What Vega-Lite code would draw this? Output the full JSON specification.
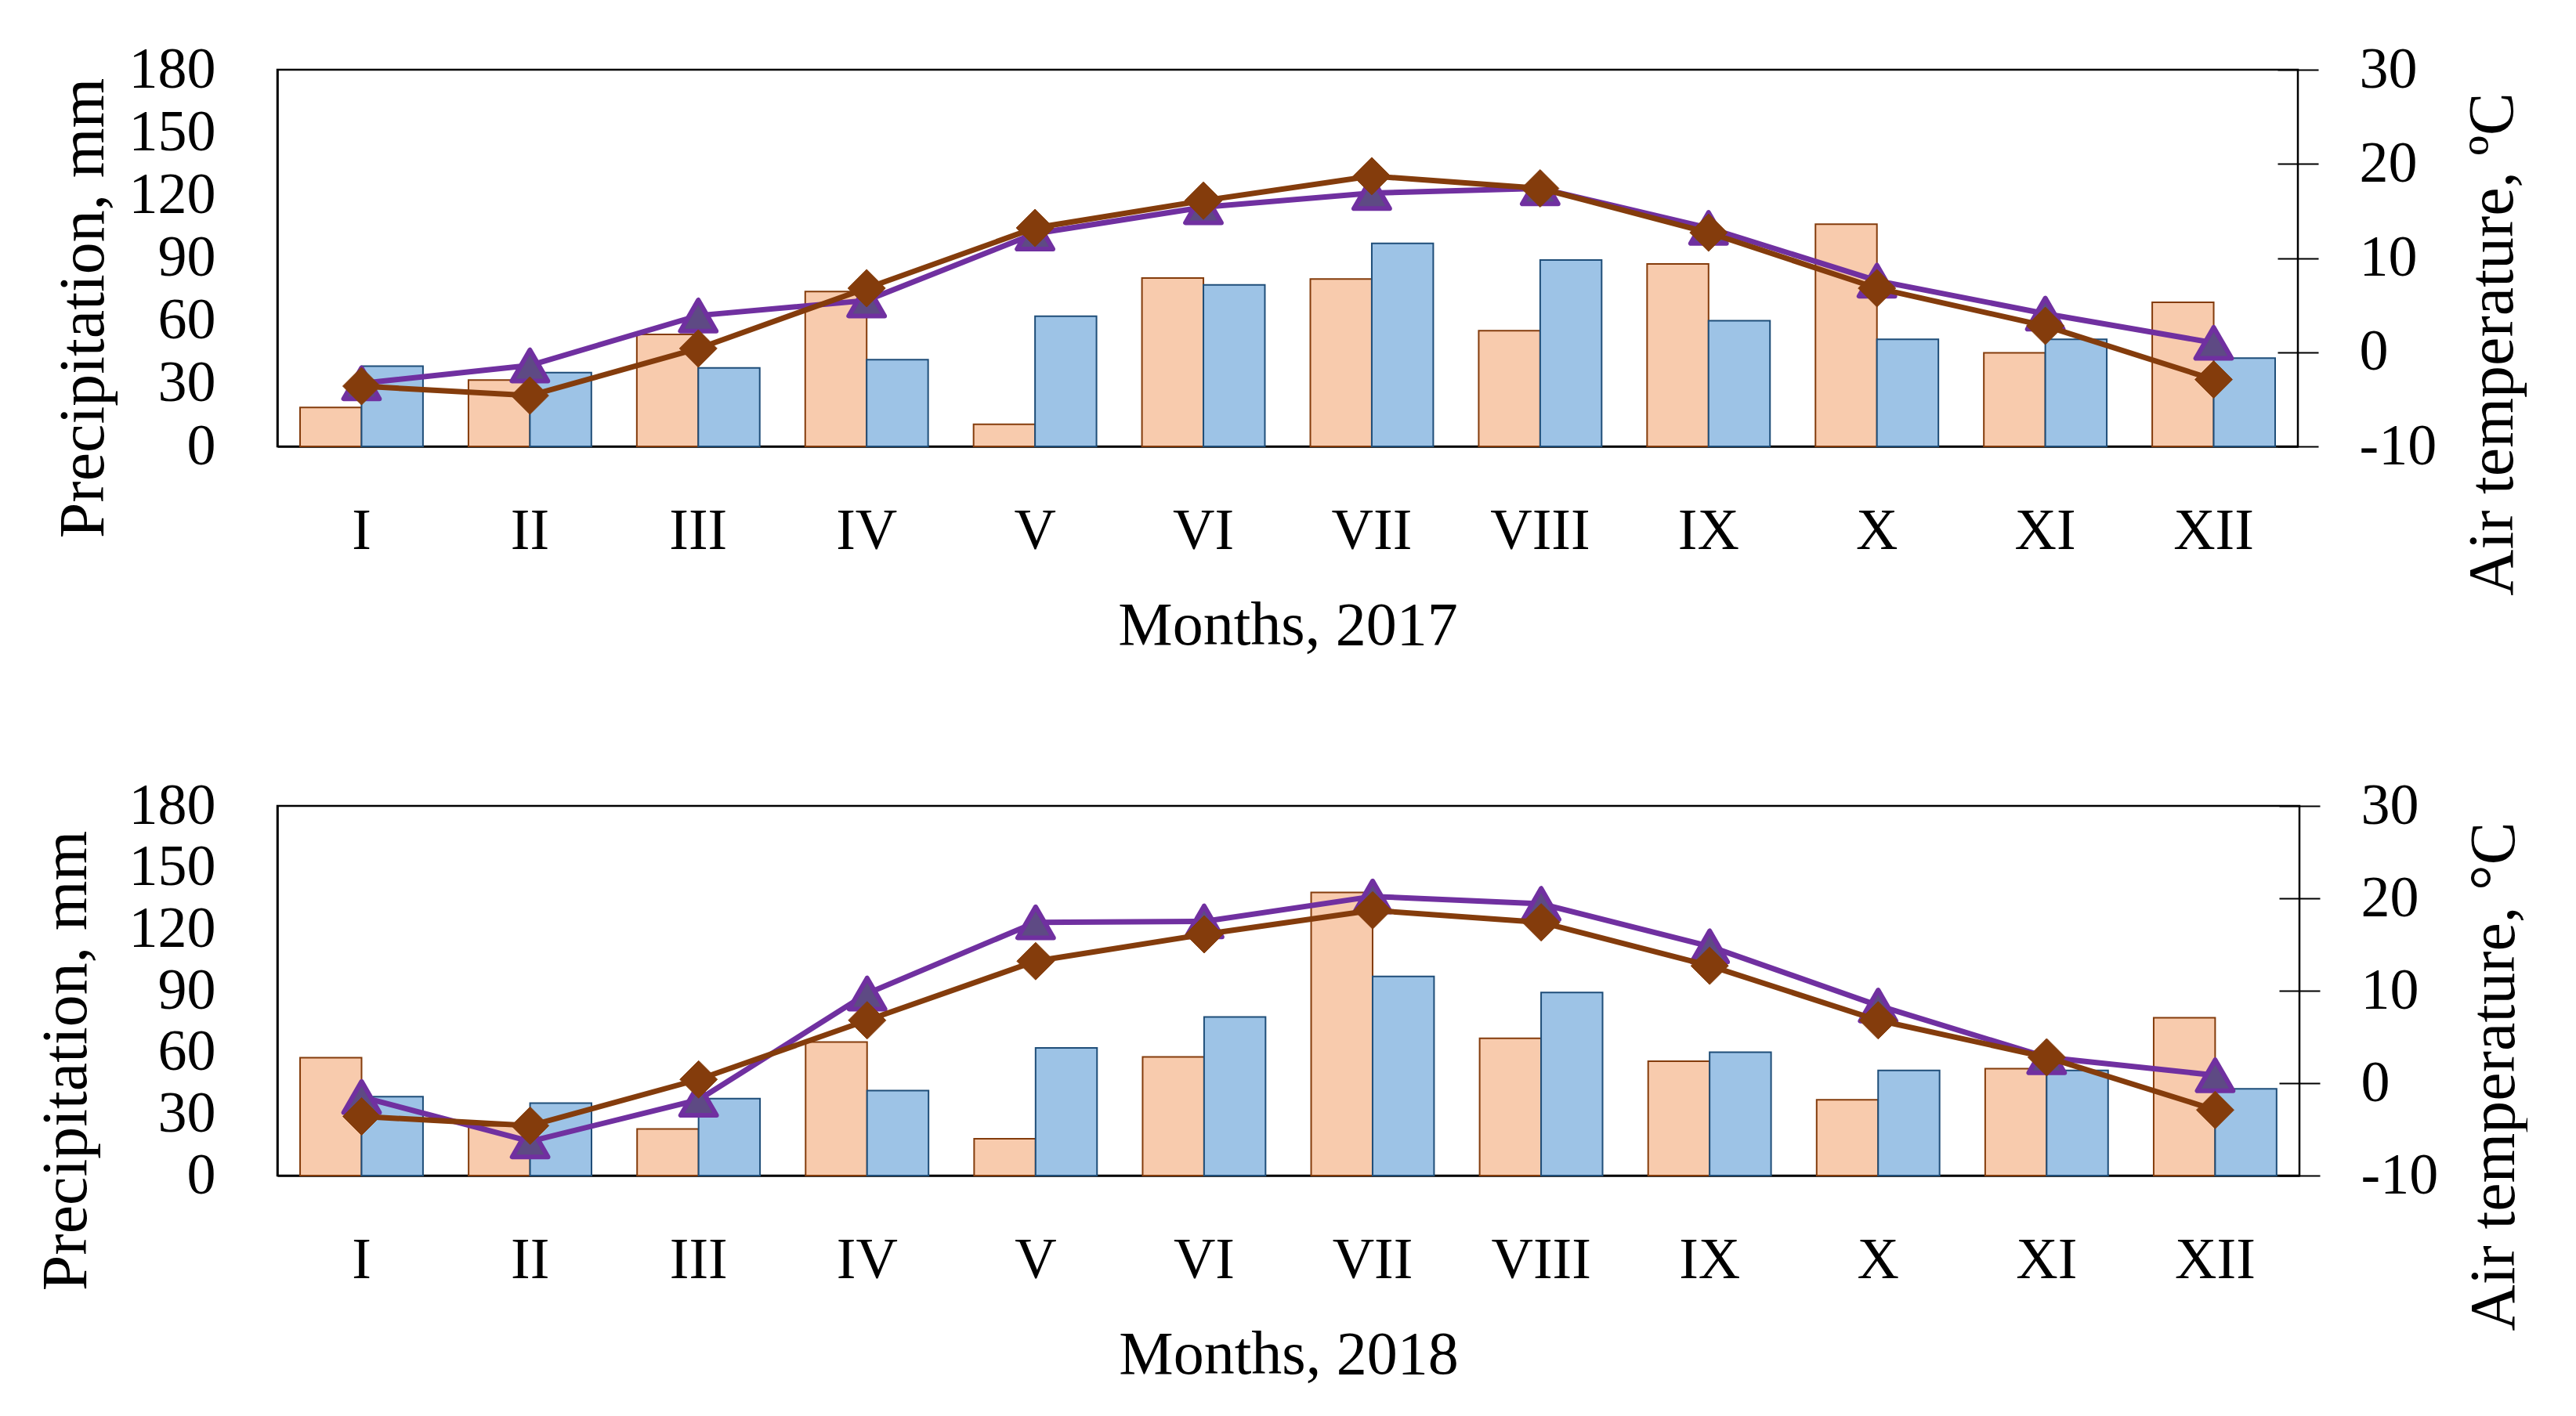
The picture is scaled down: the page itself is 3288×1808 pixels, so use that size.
{
  "$schema": "https://vega.github.io/schema/vega-lite/v6.json",
  "padding": {"left": 41, "top": 50, "right": 0, "bottom": 0},
  "background": "white",
  "config": {
    "font": "Liberation Serif",
    "view": {"stroke": "black", "strokeWidth": 2.5},
    "axis": {"labelFont": "Liberation Serif", "titleFont": "Liberation Serif", "labelColor": "black", "titleColor": "black", "titleFontWeight": "normal", "grid": false, "domainColor": "black", "tickColor": "black"}
  },
  "datasets": {
    "bars": [
      {"year": 2017, "month": "I", "series": "actual", "value": 18.6},
      {"year": 2017, "month": "II", "series": "actual", "value": 31.7},
      {"year": 2017, "month": "III", "series": "actual", "value": 53.5},
      {"year": 2017, "month": "IV", "series": "actual", "value": 74.0},
      {"year": 2017, "month": "V", "series": "actual", "value": 10.6},
      {"year": 2017, "month": "VI", "series": "actual", "value": 80.5},
      {"year": 2017, "month": "VII", "series": "actual", "value": 80.0},
      {"year": 2017, "month": "VIII", "series": "actual", "value": 55.3},
      {"year": 2017, "month": "IX", "series": "actual", "value": 87.2},
      {"year": 2017, "month": "X", "series": "actual", "value": 106.2},
      {"year": 2017, "month": "XI", "series": "actual", "value": 44.7},
      {"year": 2017, "month": "XII", "series": "actual", "value": 68.9},
      {"year": 2017, "month": "I", "series": "norm", "value": 38.4},
      {"year": 2017, "month": "II", "series": "norm", "value": 35.3},
      {"year": 2017, "month": "III", "series": "norm", "value": 37.5},
      {"year": 2017, "month": "IV", "series": "norm", "value": 41.4},
      {"year": 2017, "month": "V", "series": "norm", "value": 62.2},
      {"year": 2017, "month": "VI", "series": "norm", "value": 77.2},
      {"year": 2017, "month": "VII", "series": "norm", "value": 97.0},
      {"year": 2017, "month": "VIII", "series": "norm", "value": 89.1},
      {"year": 2017, "month": "IX", "series": "norm", "value": 60.1},
      {"year": 2017, "month": "X", "series": "norm", "value": 51.2},
      {"year": 2017, "month": "XI", "series": "norm", "value": 51.2},
      {"year": 2017, "month": "XII", "series": "norm", "value": 42.2},
      {"year": 2018, "month": "I", "series": "actual", "value": 57.4},
      {"year": 2018, "month": "II", "series": "actual", "value": 24.2},
      {"year": 2018, "month": "III", "series": "actual", "value": 22.7},
      {"year": 2018, "month": "IV", "series": "actual", "value": 65.0},
      {"year": 2018, "month": "V", "series": "actual", "value": 17.9},
      {"year": 2018, "month": "VI", "series": "actual", "value": 57.8},
      {"year": 2018, "month": "VII", "series": "actual", "value": 137.9},
      {"year": 2018, "month": "VIII", "series": "actual", "value": 66.8},
      {"year": 2018, "month": "IX", "series": "actual", "value": 55.7},
      {"year": 2018, "month": "X", "series": "actual", "value": 36.9},
      {"year": 2018, "month": "XI", "series": "actual", "value": 52.1},
      {"year": 2018, "month": "XII", "series": "actual", "value": 76.8},
      {"year": 2018, "month": "I", "series": "norm", "value": 38.4},
      {"year": 2018, "month": "II", "series": "norm", "value": 35.3},
      {"year": 2018, "month": "III", "series": "norm", "value": 37.5},
      {"year": 2018, "month": "IV", "series": "norm", "value": 41.4},
      {"year": 2018, "month": "V", "series": "norm", "value": 62.2},
      {"year": 2018, "month": "VI", "series": "norm", "value": 77.2},
      {"year": 2018, "month": "VII", "series": "norm", "value": 97.0},
      {"year": 2018, "month": "VIII", "series": "norm", "value": 89.1},
      {"year": 2018, "month": "IX", "series": "norm", "value": 60.1},
      {"year": 2018, "month": "X", "series": "norm", "value": 51.2},
      {"year": 2018, "month": "XI", "series": "norm", "value": 51.2},
      {"year": 2018, "month": "XII", "series": "norm", "value": 42.2}
    ],
    "temps": [
      {"year": 2017, "month": "I", "series": "actual", "value": -3.3},
      {"year": 2017, "month": "II", "series": "actual", "value": -1.4},
      {"year": 2017, "month": "III", "series": "actual", "value": 3.9},
      {"year": 2017, "month": "IV", "series": "actual", "value": 5.5},
      {"year": 2017, "month": "V", "series": "actual", "value": 12.6},
      {"year": 2017, "month": "VI", "series": "actual", "value": 15.4},
      {"year": 2017, "month": "VII", "series": "actual", "value": 16.9},
      {"year": 2017, "month": "VIII", "series": "actual", "value": 17.4},
      {"year": 2017, "month": "IX", "series": "actual", "value": 13.2},
      {"year": 2017, "month": "X", "series": "actual", "value": 7.6},
      {"year": 2017, "month": "XI", "series": "actual", "value": 4.1},
      {"year": 2017, "month": "XII", "series": "actual", "value": 1.0},
      {"year": 2017, "month": "I", "series": "norm", "value": -3.6},
      {"year": 2017, "month": "II", "series": "norm", "value": -4.6},
      {"year": 2017, "month": "III", "series": "norm", "value": 0.4},
      {"year": 2017, "month": "IV", "series": "norm", "value": 6.8},
      {"year": 2017, "month": "V", "series": "norm", "value": 13.2},
      {"year": 2017, "month": "VI", "series": "norm", "value": 16.1},
      {"year": 2017, "month": "VII", "series": "norm", "value": 18.7},
      {"year": 2017, "month": "VIII", "series": "norm", "value": 17.4},
      {"year": 2017, "month": "IX", "series": "norm", "value": 12.7},
      {"year": 2017, "month": "X", "series": "norm", "value": 6.8},
      {"year": 2017, "month": "XI", "series": "norm", "value": 2.8},
      {"year": 2017, "month": "XII", "series": "norm", "value": -2.9},
      {"year": 2018, "month": "I", "series": "actual", "value": -1.5},
      {"year": 2018, "month": "II", "series": "actual", "value": -6.3},
      {"year": 2018, "month": "III", "series": "actual", "value": -1.8},
      {"year": 2018, "month": "IV", "series": "actual", "value": 9.7},
      {"year": 2018, "month": "V", "series": "actual", "value": 17.4},
      {"year": 2018, "month": "VI", "series": "actual", "value": 17.5},
      {"year": 2018, "month": "VII", "series": "actual", "value": 20.2},
      {"year": 2018, "month": "VIII", "series": "actual", "value": 19.4},
      {"year": 2018, "month": "IX", "series": "actual", "value": 14.8},
      {"year": 2018, "month": "X", "series": "actual", "value": 8.4},
      {"year": 2018, "month": "XI", "series": "actual", "value": 2.8},
      {"year": 2018, "month": "XII", "series": "actual", "value": 0.85},
      {"year": 2018, "month": "I", "series": "norm", "value": -3.6},
      {"year": 2018, "month": "II", "series": "norm", "value": -4.6},
      {"year": 2018, "month": "III", "series": "norm", "value": 0.4},
      {"year": 2018, "month": "IV", "series": "norm", "value": 6.8},
      {"year": 2018, "month": "V", "series": "norm", "value": 13.2},
      {"year": 2018, "month": "VI", "series": "norm", "value": 16.1},
      {"year": 2018, "month": "VII", "series": "norm", "value": 18.7},
      {"year": 2018, "month": "VIII", "series": "norm", "value": 17.4},
      {"year": 2018, "month": "IX", "series": "norm", "value": 12.7},
      {"year": 2018, "month": "X", "series": "norm", "value": 6.8},
      {"year": 2018, "month": "XI", "series": "norm", "value": 2.8},
      {"year": 2018, "month": "XII", "series": "norm", "value": -2.9}
    ]
  },
  "spacing": 150,
  "vconcat": [
    {
      "width": 2579,
      "height": 481,
      "resolve": {"scale": {"y": "independent"}},
      "layer": [
        {
          "data": {"name": "bars"},
          "transform": [{"filter": "datum.year == 2017"}],
          "mark": {"type": "bar", "strokeWidth": 2},
          "encoding": {
            "x": {"field": "month", "type": "nominal", "sort": ["I","II","III","IV","V","VI","VII","VIII","IX","X","XI","XII"], "scale": {"paddingInner": 0.27, "paddingOuter": 0.135},
              "axis": {"title": "Months, 2017", "labelAngle": 0, "ticks": false, "tickSize": 0, "labelPadding": 72, "labelFontSize": 74, "titleFontSize": 78, "titlePadding": 45, "domainWidth": 2.5}},
            "xOffset": {"field": "series", "sort": ["actual", "norm"]},
            "y": {"field": "value", "type": "quantitative", "scale": {"domain": [0, 180], "nice": false},
              "axis": {"title": "Precipitation, mm", "values": [0,30,60,90,120,150,180], "ticks": false, "tickSize": 0, "labelPadding": 79, "labelFontSize": 74, "titleFontSize": 82, "titlePadding": 16, "titleY": 304, "domainWidth": 2.5}},
            "color": {"field": "series", "scale": {"domain": ["actual", "norm"], "range": ["#F8CBAD", "#9DC3E6"]}, "legend": null},
            "stroke": {"field": "series", "scale": {"domain": ["actual", "norm"], "range": ["#843C0C", "#1F4E79"]}, "legend": null}
          }
        },
        {
          "data": {"name": "temps"},
          "transform": [{"filter": "datum.year == 2017"}],
          "encoding": {
            "x": {"field": "month", "type": "nominal", "sort": ["I","II","III","IV","V","VI","VII","VIII","IX","X","XI","XII"]},
            "y": {"field": "value", "type": "quantitative", "scale": {"domain": [-10, 30], "nice": false},
              "axis": {"orient": "right", "title": "Air temperature, ºC", "values": [-10,0,10,20,30], "labelExpr": "'' + datum.value", "offset": -26, "domain": false, "tickSize": 52, "tickWidth": 2, "labelPadding": 52, "labelFontSize": 74, "titleFontSize": 82, "titleAngle": 270, "titleBaseline": "top", "titlePadding": 34, "titleY": 350}}
          },
          "layer": [
            {
              "transform": [{"filter": "datum.series == 'actual'"}],
              "mark": {"type": "line", "color": "#7030A0", "strokeWidth": 7,
                "point": {"shape": "triangle-up", "size": 2100, "filled": true, "fill": "#5E4A84", "stroke": "#7030A0", "strokeWidth": 6, "strokeJoin": "round", "opacity": 1}}
            },
            {
              "transform": [{"filter": "datum.series == 'norm'"}],
              "mark": {"type": "line", "color": "#843C0C", "strokeWidth": 7,
                "point": {"shape": "diamond", "size": 2300, "filled": true, "fill": "#843C0C", "stroke": "#843C0C", "strokeWidth": 1, "opacity": 1}}
            }
          ]
        }
      ]
    },
    {
      "width": 2581,
      "height": 472,
      "resolve": {"scale": {"y": "independent"}},
      "layer": [
        {
          "data": {"name": "bars"},
          "transform": [{"filter": "datum.year == 2018"}],
          "mark": {"type": "bar", "strokeWidth": 2},
          "encoding": {
            "x": {"field": "month", "type": "nominal", "sort": ["I","II","III","IV","V","VI","VII","VIII","IX","X","XI","XII"], "scale": {"paddingInner": 0.27, "paddingOuter": 0.135},
              "axis": {"title": "Months, 2018", "labelAngle": 0, "ticks": false, "tickSize": 0, "labelPadding": 72, "labelFontSize": 74, "titleFontSize": 78, "titlePadding": 45, "domainWidth": 2.5}},
            "xOffset": {"field": "series", "sort": ["actual", "norm"]},
            "y": {"field": "value", "type": "quantitative", "scale": {"domain": [0, 180], "nice": false},
              "axis": {"title": "Precipitation, mm", "values": [0,30,60,90,120,150,180], "ticks": false, "tickSize": 0, "labelPadding": 79, "labelFontSize": 74, "titleFontSize": 82, "titlePadding": 38, "titleY": 325, "domainWidth": 2.5}},
            "color": {"field": "series", "scale": {"domain": ["actual", "norm"], "range": ["#F8CBAD", "#9DC3E6"]}, "legend": null},
            "stroke": {"field": "series", "scale": {"domain": ["actual", "norm"], "range": ["#843C0C", "#1F4E79"]}, "legend": null}
          }
        },
        {
          "data": {"name": "temps"},
          "transform": [{"filter": "datum.year == 2018"}],
          "encoding": {
            "x": {"field": "month", "type": "nominal", "sort": ["I","II","III","IV","V","VI","VII","VIII","IX","X","XI","XII"]},
            "y": {"field": "value", "type": "quantitative", "scale": {"domain": [-10, 30], "nice": false},
              "axis": {"orient": "right", "title": "Air temperature, °C", "values": [-10,0,10,20,30], "labelExpr": "'' + datum.value", "offset": -26, "domain": false, "tickSize": 52, "tickWidth": 2, "labelPadding": 52, "labelFontSize": 74, "titleFontSize": 82, "titleAngle": 270, "titleBaseline": "top", "titlePadding": 34, "titleY": 345}}
          },
          "layer": [
            {
              "transform": [{"filter": "datum.series == 'actual'"}],
              "mark": {"type": "line", "color": "#7030A0", "strokeWidth": 7,
                "point": {"shape": "triangle-up", "size": 2100, "filled": true, "fill": "#5E4A84", "stroke": "#7030A0", "strokeWidth": 6, "strokeJoin": "round", "opacity": 1}}
            },
            {
              "transform": [{"filter": "datum.series == 'norm'"}],
              "mark": {"type": "line", "color": "#843C0C", "strokeWidth": 7,
                "point": {"shape": "diamond", "size": 2300, "filled": true, "fill": "#843C0C", "stroke": "#843C0C", "strokeWidth": 1, "opacity": 1}}
            }
          ]
        }
      ]
    }
  ]
}
